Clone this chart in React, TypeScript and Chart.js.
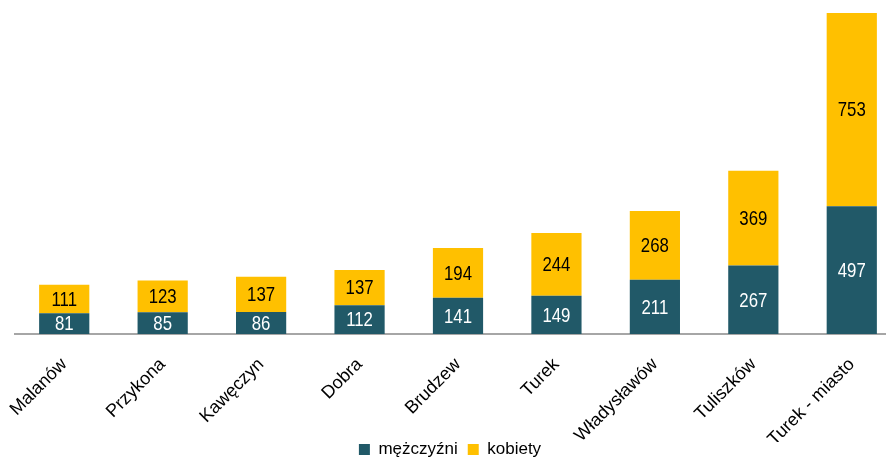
import React, { useEffect, useRef } from "react";
import { Chart, registerables } from "chart.js";

Chart.register(...registerables);

const categories = ["Malanów", "Przykona", "Kawęczyn", "Dobra", "Brudzew", "Turek", "Władysławów", "Tuliszków", "Turek - miasto"];
const men = [81, 85, 86, 112, 141, 149, 211, 267, 497];
const women = [111, 123, 137, 137, 194, 244, 268, 369, 753];
const seriesNames = ["mężczyźni", "kobiety"];

const FONT = "'Liberation Sans', Arial, sans-serif";

const valueLabels = {
  id: "valueLabels",
  afterDatasetsDraw(chart: any) {
    const ctx = chart.ctx;
    chart.data.datasets.forEach((ds: any, di: number) => {
      const meta = chart.getDatasetMeta(di);
      meta.data.forEach((el: any, i: number) => {
        const v = ds.data[i];
        ctx.save();
        ctx.font = `21px ${FONT}`;
        ctx.textAlign = "center";
        ctx.textBaseline = "middle";
        ctx.fillStyle = di === 0 ? "#ffffff" : "#000000";
        ctx.translate(el.x, (el.y + el.base) / 2 + 1);
        ctx.scale(0.8, 1);
        ctx.fillText(String(v), 0, 0);
        ctx.restore();
      });
    });
  },
};

const legendShift = {
  id: "legendShift",
  afterLayout(chart: any) {
    const l = chart.legend;
    if (l) {
      l.left -= 8;
      l.right -= 8;
      l.top -= 11;
      l.bottom -= 11;
    }
  },
};

export default function App() {
  const ref = useRef<HTMLCanvasElement>(null);
  useEffect(() => {
    if (!ref.current) return;
    const chart = new Chart(ref.current, {
      type: "bar",
      data: {
        labels: categories,
        datasets: [
          { label: seriesNames[0], data: men, backgroundColor: "#215968", borderWidth: 0 },
          { label: seriesNames[1], data: women, backgroundColor: "#FFC000", borderWidth: 0 },
        ],
      },
      options: {
        responsive: false,
        animation: false,
        devicePixelRatio: 1,
        layout: { padding: { left: 15, top: 13, right: 0, bottom: 0 } },
        datasets: { bar: { categoryPercentage: 1, barPercentage: 0.51 } },
        scales: {
          x: {
            stacked: true,
            grid: { display: false },
            border: { display: true, color: "#A6A6A6", width: 2 },
            ticks: {
              minRotation: 45,
              maxRotation: 45,
              color: "#000000",
              font: { family: FONT, size: 18 },
              padding: 12,
            },
            afterFit: (s: any) => {
              s.height = 108;
            },
          },
          y: {
            stacked: true,
            display: false,
            min: 0,
            max: 1250,
          },
        },
        plugins: {
          legend: {
            position: "bottom",
            labels: {
              boxWidth: 11,
              boxHeight: 11,
              padding: 10,
              color: "#000000",
              font: { family: FONT, size: 17 },
            },
          },
          tooltip: { enabled: false },
        },
      },
      plugins: [valueLabels, legendShift],
    });
    return () => chart.destroy();
  }, []);
  return (
    <div style={{ position: "absolute", left: 0, top: 0, width: 886, height: 458, overflow: "hidden", background: "#fff" }}>
      <canvas ref={ref} width={901} height={479} style={{ display: "block", width: 901, height: 479 }} />
    </div>
  );
}
